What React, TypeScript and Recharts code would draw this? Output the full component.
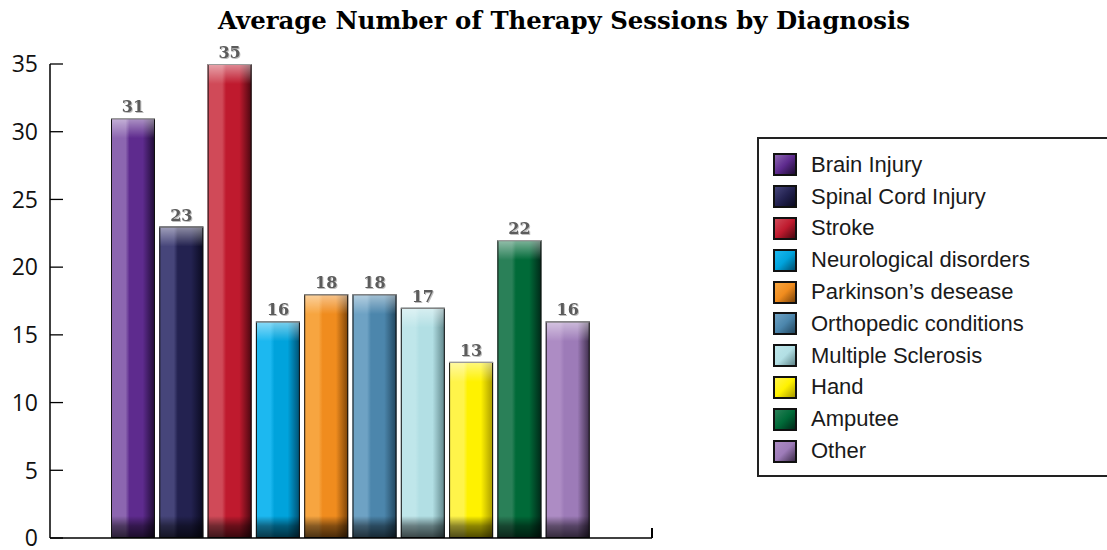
import { BarChart, Bar, XAxis, YAxis, LabelList } from 'recharts';

const categories = [
  'Brain Injury',
  'Spinal Cord Injury',
  'Stroke',
  'Neurological disorders',
  'Parkinson’s desease',
  'Orthopedic conditions',
  'Multiple Sclerosis',
  'Hand',
  'Amputee',
  'Other',
];
const sessions = [31, 23, 35, 16, 18, 18, 17, 13, 22, 16];
const yTicks = [0, 5, 10, 15, 20, 25, 30, 35];

// light / base / dark shade for each bar
const lightColors = ['#8c66b0', '#46457a', '#d04a58', '#1cb8f0', '#f7a540', '#6ea2c4', '#bfe6ea', '#fff44a', '#2a8058', '#ad8cc4'];
const baseColors = ['#5e2b8e', '#232250', '#bf1a2e', '#00a3dc', '#f08c1e', '#4c86ac', '#b2dfe4', '#fff200', '#006a38', '#9d7bb8'];
const darkColors = ['#1e0c33', '#0a0a20', '#4a0710', '#004f70', '#7a4208', '#22465e', '#5f8589', '#a89a00', '#002818', '#3d2c4a'];

const data = categories.map((name, i) => ({ name, value: sessions[i] }));

function GlossyBar(props: any) {
  const { x, y, width, height, index } = props;
  if (!height || height <= 0) return null;
  const gloss = Math.min(20, height / 2);
  const shade = Math.min(22, height / 2);
  return (
    <g>
      <rect x={x} y={y} width={width} height={height} fill={`url(#barH${index})`} />
      <rect x={x} y={y} width={width} height={gloss} fill="url(#glossTop)" />
      <rect x={x} y={y + height - shade} width={width} height={shade} fill="url(#shadeBottom)" />
      <rect x={x + 0.5} y={y + 0.5} width={width - 1} height={height - 1} fill="none" stroke="#111" strokeWidth={1} />
      <line x1={x} x2={x + width} y1={y + 0.5} y2={y + 0.5} stroke="#9a9a9a" strokeWidth={1.2} />
    </g>
  );
}

function ValueLabel(props: any) {
  const { x, y, width, value } = props;
  return (
    <text
      x={x + width / 2}
      y={y - 6}
      textAnchor="middle"
      fontFamily="DejaVu Serif"
      fontWeight="bold"
      fontSize={16}
      fill="#5c5c5c"
      style={{ filter: 'drop-shadow(1px 1px 0.6px rgba(0,0,0,0.25))' }}
    >
      {value}
    </text>
  );
}

function YTick(props: any) {
  const { y, payload } = props;
  return (
    <g>
      <line x1={50} x2={63} y1={y} y2={y} stroke="#000" strokeWidth={1.3} />
      <text x={38} y={y} dy="0.36em" textAnchor="end" fontFamily="Open Sans" fontSize={23} fill="#111">
        {payload.value}
      </text>
    </g>
  );
}

export default function App() {
  return (
    <div style={{ position: 'fixed', left: 0, top: 0, width: 1107, height: 550, overflow: 'hidden', background: '#fff' }}>
      <div
        style={{
          position: 'absolute',
          left: 0,
          top: 6,
          width: 1128,
          textAlign: 'center',
          fontFamily: 'DejaVu Serif',
          fontWeight: 'bold',
          fontSize: 24.4,
          lineHeight: '30px',
          color: '#000',
        }}
      >
        Average Number of Therapy Sessions by Diagnosis
      </div>

      <BarChart
        width={1107}
        height={550}
        data={data}
        margin={{ top: 64, right: 455, bottom: 0, left: 0 }}
        barCategoryGap={2}
        style={{ position: 'absolute', left: 0, top: 0 }}
      >
        <defs>
          {categories.map((_, i) => (
            <linearGradient key={i} id={`barH${i}`} x1="0" y1="0" x2="1" y2="0">
              <stop offset="0%" stopColor={lightColors[i]} />
              <stop offset="33%" stopColor={lightColors[i]} />
              <stop offset="42%" stopColor={baseColors[i]} />
              <stop offset="72%" stopColor={baseColors[i]} />
              <stop offset="100%" stopColor={darkColors[i]} />
            </linearGradient>
          ))}
          <linearGradient id="glossTop" x1="0" y1="0" x2="0" y2="1">
            <stop offset="0%" stopColor="#fff" stopOpacity={0.5} />
            <stop offset="100%" stopColor="#fff" stopOpacity={0} />
          </linearGradient>
          <linearGradient id="shadeBottom" x1="0" y1="0" x2="0" y2="1">
            <stop offset="0%" stopColor="#000" stopOpacity={0} />
            <stop offset="45%" stopColor="#000" stopOpacity={0.45} />
            <stop offset="100%" stopColor="#000" stopOpacity={0.7} />
          </linearGradient>
        </defs>
        <XAxis
          dataKey="name"
          height={12}
          tick={false}
          tickLine={false}
          axisLine={{ stroke: '#000', strokeWidth: 1.5 }}
          padding={{ left: 59, right: 60 }}
        />
        <YAxis
          width={50}
          domain={[0, 35]}
          ticks={yTicks}
          interval={0}
          tickLine={false}
          axisLine={{ stroke: '#000', strokeWidth: 1.5 }}
          tick={<YTick />}
        />
        <Bar dataKey="value" shape={<GlossyBar />} isAnimationActive={false}>
          <LabelList dataKey="value" content={<ValueLabel />} />
        </Bar>
      </BarChart>

      {/* end tick on the category axis */}
      <div style={{ position: 'absolute', left: 651, top: 528, width: 1.5, height: 10, background: '#000' }} />

      <div
        style={{
          position: 'absolute',
          left: 757,
          top: 137,
          width: 370,
          height: 340,
          boxSizing: 'border-box',
          border: '2px solid #222',
          paddingTop: 10,
          paddingLeft: 14,
          background: '#fff',
        }}
      >
        {categories.map((name, i) => (
          <div key={name} style={{ display: 'flex', alignItems: 'center', height: 31.8 }}>
            <div
              style={{
                width: 24,
                height: 23,
                flexShrink: 0,
                boxSizing: 'border-box',
                border: '2px solid #111',
                background: `linear-gradient(135deg, ${lightColors[i]} 0%, ${baseColors[i]} 50%, ${darkColors[i]} 100%)`,
              }}
            />
            <span
              style={{
                marginLeft: 14,
                fontFamily: 'Liberation Sans',
                fontSize: 22,
                color: '#1a1a1a',
                whiteSpace: 'nowrap',
              }}
            >
              {name}
            </span>
          </div>
        ))}
      </div>
    </div>
  );
}
